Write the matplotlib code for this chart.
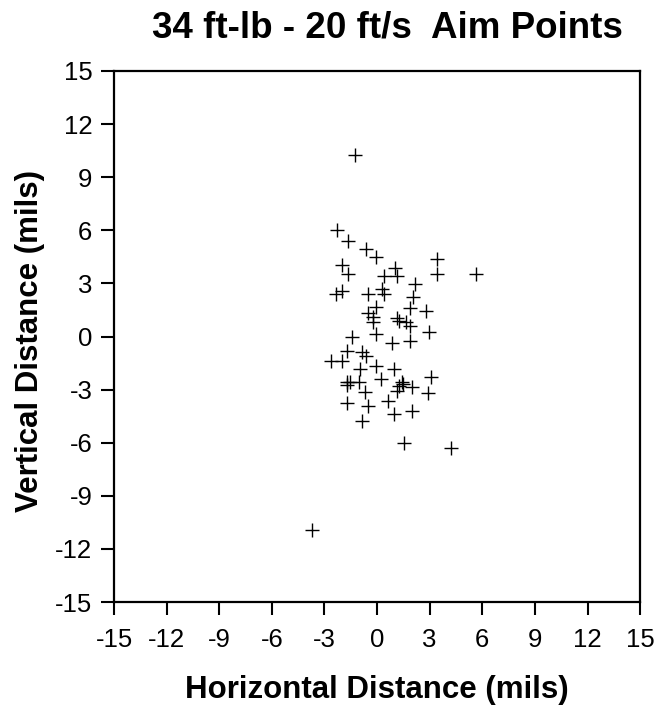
import numpy as np
import matplotlib.pyplot as plt

# aim points (mils)
horiz = [-1.25, -2.30, -1.67, -0.65, -0.04, 3.40, -2.00, -1.67, 1.03, 0.40,
         1.16, 3.40, 5.65, 2.19, -1.99, -2.34, -0.49, 0.27, 0.42, 2.07,
         -0.04, 1.90, 2.80, -0.49, -0.25, -0.21, 1.14, 1.25, 1.65, 1.90,
         2.95, -1.41, -0.07, 0.84, 1.88, -1.73, -0.84, -0.65, -2.62, -2.01,
         -0.97, -0.06, 0.99, 3.06, -1.73, -1.54, -1.73, -1.01, 0.21, 1.41,
         1.50, 1.25, 2.01, 1.12, 2.89, -0.68, 0.65, -1.73, -0.53, 0.97,
         2.01, -0.84, 1.56, 4.22, -3.71]
vert = [10.24, 6.04, 5.39, 4.94, 4.49, 4.36, 4.02, 3.55, 3.89, 3.41,
        3.41, 3.55, 3.55, 2.94, 2.60, 2.38, 2.38, 2.70, 2.38, 2.22,
        1.66, 1.60, 1.43, 1.32, 1.09, 0.81, 1.06, 0.90, 0.83, 0.58,
        0.28, -0.02, 0.15, -0.36, -0.23, -0.79, -0.89, -1.08, -1.40, -1.40,
        -1.83, -1.64, -1.83, -2.26, -2.59, -2.59, -2.73, -2.55, -2.40, -2.59,
        -2.68, -2.77, -2.87, -3.06, -3.19, -3.15, -3.62, -3.75, -3.92, -4.38,
        -4.19, -4.79, -6.04, -6.32, -10.92]
ticks = np.arange(-15, 16, 3)

plt.rcParams['font.family'] = ['Liberation Sans', 'DejaVu Sans']
plt.rcParams['axes.unicode_minus'] = False

fig = plt.figure(figsize=(6.56, 7.10), dpi=100)
ax = fig.add_axes([0.1738, 0.152, 0.802, 0.748])

ax.plot(horiz, vert, '+', color='black', markersize=9.5, markeredgewidth=1.0)

ax.set_xlim(-15, 15)
ax.set_ylim(-15, 15)
ax.set_xticks(ticks)
ax.set_yticks(ticks)
ax.tick_params(direction='out', length=9.5, width=1.5, labelsize=18.5, pad=6)
ax.tick_params(axis='x', pad=9)
for s in ax.spines.values():
    s.set_linewidth(1.6)

fig.text(0.59, 0.96, '34 ft-lb - 20 ft/s  Aim Points', ha='center', va='center',
         fontsize=26.5, fontweight='bold')
fig.text(0.575, 0.028, 'Horizontal Distance (mils)', ha='center', va='center',
         fontsize=22.5, fontweight='bold')
fig.text(0.045, 0.52, 'Vertical Distance (mils)', ha='center', va='center',
         fontsize=22.5, fontweight='bold', rotation=90)

plt.savefig('out.png', dpi=100)
